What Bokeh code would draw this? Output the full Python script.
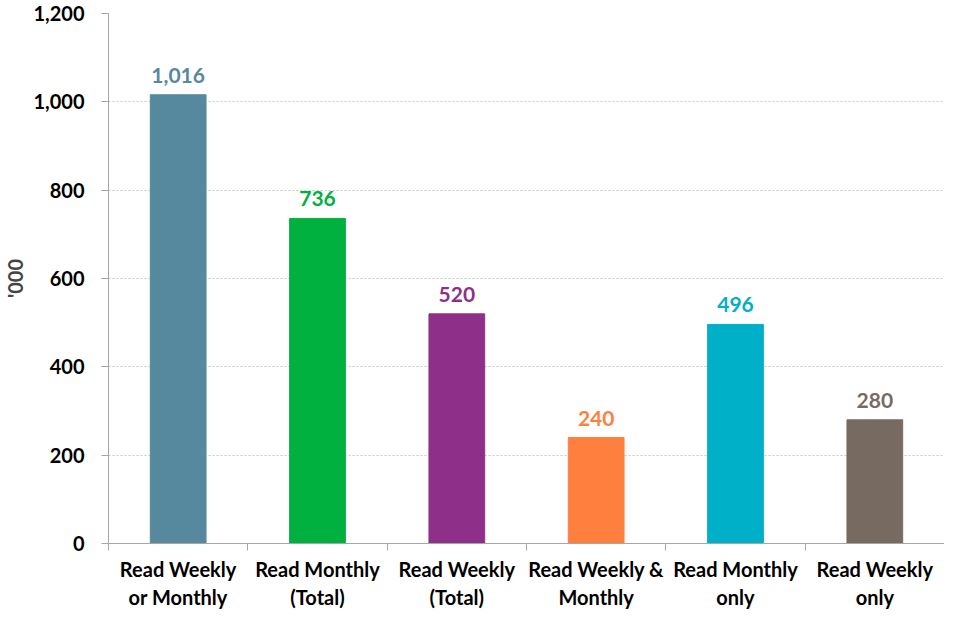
from bokeh.plotting import figure
from bokeh.models import FixedTicker, NumeralTickFormatter, ColumnDataSource, Range1d, LabelSet
from bokeh.core.properties import value
from bokeh.embed import file_html
from bokeh.resources import INLINE

categories = ["Read Weekly\nor Monthly", "Read Monthly\n(Total)", "Read Weekly\n(Total)",
              "Read Weekly &\nMonthly", "Read Monthly\nonly", "Read Weekly\nonly"]
values = [1016, 736, 520, 240, 496, 280]
colors = ["#56899E", "#00B140", "#8E3089", "#FF7F3F", "#00AFC8", "#776B61"]
value_labels = ["1,016", "736", "520", "240", "496", "280"]
y_ticks = [0, 200, 400, 600, 800, 1000, 1200]
y_label = "'000"

FONT = "Lato"

xs = [i + 0.5 for i in range(len(categories))]
src = ColumnDataSource(dict(x=xs, top=values, color=colors, lab=value_labels))

p = figure(width=944, height=612, output_backend="svg", toolbar_location=None,
           x_range=Range1d(0, len(categories)), y_range=Range1d(0, 1200),
           min_border_left=95, min_border_right=0, min_border_top=13, min_border_bottom=40)

p.vbar(x="x", top="top", width=0.4, color="color", source=src)

labels = LabelSet(x="x", y="top", text="lab", text_color="color", source=src,
                  text_align="center", text_baseline="bottom", y_offset=12,
                  text_font=value(FONT), text_font_style="bold", text_font_size="21px")
p.add_layout(labels)

p.outline_line_color = None
p.background_fill_color = "white"
p.border_fill_color = "white"

# y axis
p.yaxis.ticker = FixedTicker(ticks=y_ticks)
p.yaxis.formatter = NumeralTickFormatter(format="0,0")
p.yaxis.axis_line_color = "#A6A6A6"
p.yaxis.major_tick_line_color = "#A6A6A6"
p.yaxis.major_tick_in = 0
p.yaxis.major_tick_out = 7
p.yaxis.minor_tick_line_color = None
p.yaxis.major_label_text_font = FONT
p.yaxis.major_label_text_font_style = "bold"
p.yaxis.major_label_text_font_size = "20px"
p.yaxis.major_label_text_color = "black"
p.yaxis.major_label_standoff = 17
p.yaxis.axis_label = y_label
p.yaxis.axis_label_text_font = FONT
p.yaxis.axis_label_text_font_style = "bold"
p.yaxis.axis_label_text_font_size = "20px"
p.yaxis.axis_label_standoff = 3

# x axis
centers = xs
bounds = list(range(len(categories) + 1))
p.xaxis.ticker = FixedTicker(ticks=centers, minor_ticks=bounds)
p.xaxis.major_label_overrides = {c: lab for c, lab in zip(centers, categories)}
p.xaxis.axis_line_color = "#A6A6A6"
p.xaxis.major_tick_line_color = None
p.xaxis.major_tick_out = 0
p.xaxis.major_tick_in = 0
p.xaxis.minor_tick_line_color = "#A6A6A6"
p.xaxis.minor_tick_in = 0
p.xaxis.minor_tick_out = 7
p.xaxis.major_label_text_font = FONT
p.xaxis.major_label_text_font_style = "bold"
p.xaxis.major_label_text_font_size = "20px"
p.xaxis.major_label_text_color = "black"
p.xaxis.major_label_standoff = 6

p.xgrid.grid_line_color = None
p.ygrid.ticker = FixedTicker(ticks=y_ticks)
p.ygrid.grid_line_color = "#C8C8C8"
p.ygrid.grid_line_dash = "2 2"

open("out.html", "w").write(file_html(p, INLINE))
